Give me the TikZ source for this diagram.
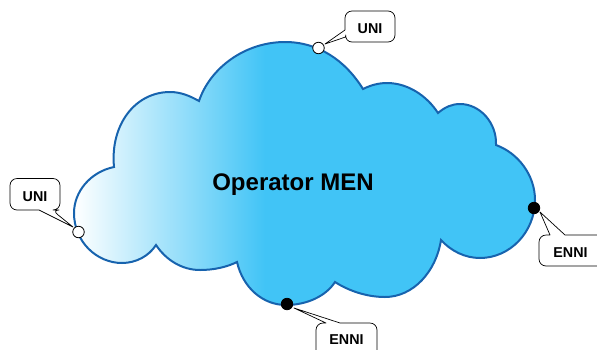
\documentclass[tikz,border=0pt]{standalone}
\usepackage{fontspec}
\setmainfont{Liberation Sans}
\definecolor{cloudfill}{HTML}{41C4F6}
\definecolor{cloudline}{HTML}{1763AE}
\tikzset{
  cloudedge/.style={draw=cloudline,line width=2pt,line join=miter},
  calloutbox/.style={draw=black,fill=white,line width=0.7pt,line join=round},
  calloutlabel/.style={font=\bfseries\fontsize{14.3}{16}\selectfont,text=black,inner sep=0pt,anchor=base},
  porthollow/.style={circle,draw=black,fill=white,line width=0.8pt,minimum size=11.5pt,inner sep=0pt},
  portsolid/.style={circle,draw=black,fill=black,line width=0.8pt,minimum size=11.5pt,inner sep=0pt},
  titlelabel/.style={font=\bfseries\fontsize{24}{28}\selectfont,text=black,inner sep=0pt,anchor=base}
}
\newcommand{\cloudpath}{
  (114,167)
  .. controls (90,172) and (74,192) .. (74,213)
  .. controls (74,242) and (97,263) .. (122,263)
  .. controls (136,263) and (149,256) .. (156,245)
  .. controls (166,260) and (182,270) .. (200,270)
  .. controls (214,270) and (227,267) .. (237,262)
  .. controls (243,288) and (263,305) .. (286,305)
  .. controls (307,305) and (326,296) .. (335,282)
  .. controls (349,291) and (367,297) .. (385,297)
  .. controls (413,297) and (436,272) .. (441,240)
  .. controls (451,251) and (465,258) .. (480,258)
  .. controls (510,258) and (535,232) .. (535,200)
  .. controls (535,175) and (518,153) .. (496,145)
  .. controls (497,123) and (480,104) .. (460,104)
  .. controls (452,104) and (445,107) .. (438,113)
  .. controls (427,96) and (408,83) .. (387,83)
  .. controls (379,83) and (371,85) .. (363,89)
  .. controls (345,60) and (318,42) .. (285,42)
  .. controls (245,42) and (210,68) .. (199,101)
  .. controls (190,96) and (181,92) .. (170,92)
  .. controls (135,92) and (110,125) .. (114,167)
  -- cycle
}
\begin{document}
\begin{tikzpicture}[x=1pt,y=-1pt]
\useasboundingbox (0,0) rectangle (597,349);
\clip (0,0) rectangle (597,349);
\fill[cloudfill] \cloudpath;
\begin{scope}
  \clip \cloudpath;
  \shade[left color=white,right color=cloudfill,shading angle=90] (74,35) rectangle (265,310);
\end{scope}
\draw[cloudedge] \cloudpath;
\node[titlelabel] (title) at (293,190) {Operator MEN};
% callouts
\draw[calloutbox,rounded corners=7pt] (10,178.5) -- (60,178.5) -- (60,210) -- (52,210) [sharp corners] -- (73,227) -- (39,210) [rounded corners=7pt] -- (10,210) -- cycle;
\draw[calloutbox,rounded corners=7pt] (345,11) -- (395,11) -- (395,42) -- (345,42) [sharp corners] -- (345.5,37) -- (325,44) -- (345,30) [rounded corners=7pt] -- cycle;
\draw[calloutbox,rounded corners=7pt] (539,235) [sharp corners] -- (550,235) -- (540,212) -- (565,235) [rounded corners=7pt] -- (604,235) -- (604,266) -- (539,266) -- cycle;
\draw[calloutbox,rounded corners=7pt] (316,323) [sharp corners] -- (326,323) -- (294,308) -- (340,323) [rounded corners=7pt] -- (377,323) -- (377,362) -- (316,362) -- cycle;
\node[calloutlabel] (uniA) at (35,201) {UNI};
\node[calloutlabel] (uniB) at (370,33) {UNI};
\node[calloutlabel] (enniA) at (570.5,257) {ENNI};
\node[calloutlabel] (enniB) at (346.5,344) {ENNI};
\node[porthollow] (pA) at (78.5,232) {};
\node[porthollow] (pB) at (318.5,48) {};
\node[portsolid] (pC) at (534,208) {};
\node[portsolid] (pD) at (287,304) {};
\end{tikzpicture}
\end{document}
